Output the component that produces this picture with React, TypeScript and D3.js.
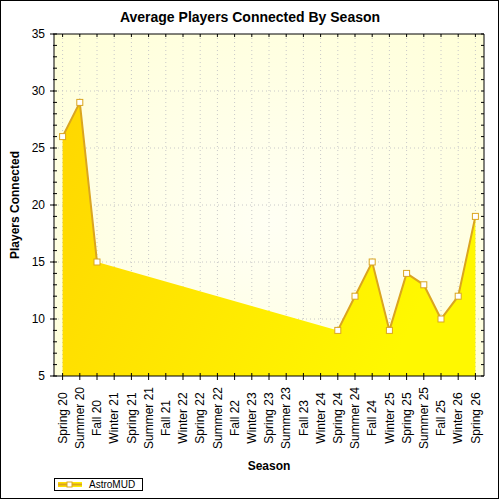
import React from "react";
import * as d3 from "d3";

const seasons = [
  "Spring 20", "Summer 20", "Fall 20", "Winter 21", "Spring 21", "Summer 21", "Fall 21",
  "Winter 22", "Spring 22", "Summer 22", "Fall 22", "Winter 23", "Spring 23", "Summer 23",
  "Fall 23", "Winter 24", "Spring 24", "Summer 24", "Fall 24", "Winter 25", "Spring 25",
  "Summer 25", "Fall 25", "Winter 26", "Spring 26",
];
const players: (number | null)[] = [
  26, 29, 15, null, null, null, null, null, null, null, null, null, null, null, null, null,
  9, 12, 15, 9, 14, 13, 10, 12, 19,
];
const majorTicks = [5, 10, 15, 20, 25, 30, 35];
const seriesName = "AstroMUD";

const W = 500, H = 500;
const L = 54, R = 484, T = 34, B = 376;
const FONT = "Arial, 'Liberation Sans', sans-serif";
const LINE = "#DAA520";

export default function App() {
  const x = d3.scaleBand<string>().domain(seasons).range([L, R]).padding(0);
  const cx = (s: string) => (x(s) as number) + x.bandwidth() / 2;
  const y = d3.scaleLinear().domain([5, 35]).range([B, T]);
  const minorTicks = d3.range(5, 36, 1);

  const pts = seasons.map((s, i) => ({ s, v: players[i] }));
  const defined = pts.filter((p) => p.v !== null) as { s: string; v: number }[];

  const area = d3.area<{ s: string; v: number }>()
    .x((d) => cx(d.s)).y0(y(5)).y1((d) => y(d.v))(defined) || "";
  const line = d3.line<{ s: string; v: number | null }>()
    .defined((d) => d.v !== null)
    .x((d) => cx(d.s)).y((d) => y(d.v as number))(pts) || "";

  return (
    <svg width={W} height={H} style={{ position: "absolute", left: 0, top: 0 }} fontFamily={FONT}>
      <defs>
        <radialGradient id="bg" cx="50%" cy="55%" r="75%">
          <stop offset="0%" stopColor="#FFFFF4" />
          <stop offset="100%" stopColor="#FFFFD8" />
        </radialGradient>
        <linearGradient id="fill" x1="0" y1="0" x2="1" y2="0.3">
          <stop offset="0%" stopColor="#FFD700" />
          <stop offset="100%" stopColor="#FFF800" />
        </linearGradient>
        <linearGradient id="legfill" x1="0" y1="0" x2="1" y2="0">
          <stop offset="0%" stopColor="#FFD700" />
          <stop offset="100%" stopColor="#FFF200" />
        </linearGradient>
      </defs>
      <rect x={0} y={0} width={W} height={H} fill="#fff" />
      <rect x={0.5} y={0.5} width={498} height={498} fill="none" stroke="#000" />
      <rect x={L} y={T} width={R - L} height={B - T} fill="url(#bg)" />

      {/* grid */}
      {seasons.map((s) => (
        <line key={"gv" + s} x1={cx(s)} x2={cx(s)} y1={T} y2={B} stroke="#C8C8C8" strokeDasharray="1,3" />
      ))}
      {majorTicks.slice(1, -1).map((t) => (
        <line key={"gh" + t} x1={L} x2={R} y1={y(t)} y2={y(t)} stroke="#C8C8C8" strokeDasharray="1,3" />
      ))}

      <path d={area} fill="url(#fill)" />
      <path d={line} fill="none" stroke={LINE} strokeWidth={2} />
      {defined.map((d) => (
        <rect key={"m" + d.s} x={cx(d.s) - 3} y={y(d.v) - 3} width={6} height={6} fill="#fff" stroke={LINE} strokeWidth={1} />
      ))}

      {/* frame */}
      <line x1={L} x2={R} y1={T} y2={T} stroke="#000" />
      <line x1={R} x2={R} y1={T} y2={B} stroke="#000" />
      <line x1={L} x2={L} y1={T} y2={B} stroke="#000" />
      <line x1={L} x2={R} y1={B} y2={B} stroke="#000" />

      {/* y ticks */}
      {minorTicks.map((t) => (
        <g key={"yt" + t}>
          <line x1={L - 1} x2={L + 3} y1={y(t)} y2={y(t)} stroke="#000" />
          <line x1={R - 3} x2={R} y1={y(t)} y2={y(t)} stroke="#000" />
        </g>
      ))}
      {majorTicks.map((t) => (
        <g key={"ym" + t}>
          <line x1={L - 4} x2={L} y1={y(t)} y2={y(t)} stroke="#000" />
          <text x={45} y={y(t)} dy="0.35em" textAnchor="end" fontSize={12} fill="#000">{t}</text>
        </g>
      ))}

      {/* x ticks */}
      {seasons.map((s) => (
        <g key={"xt" + s}>
          <line x1={cx(s)} x2={cx(s)} y1={B - 3} y2={B + 4} stroke="#000" />
          <line x1={cx(s)} x2={cx(s)} y1={T} y2={T + 3} stroke="#000" />
          <text transform={`translate(${cx(s)},418) rotate(-90)`} dy="0.35em" textAnchor="middle" fontSize={12} fill="#000">{s}</text>
        </g>
      ))}

      {/* titles */}
      <text x={250} y={22} textAnchor="middle" fontSize={14} fontWeight="bold" fill="#000">Average Players Connected By Season</text>
      <text x={(L + R) / 2} y={470} textAnchor="middle" fontSize={12} fontWeight="bold" fill="#000">Season</text>
      <text transform={`translate(19,${(T + B) / 2}) rotate(-90)`} textAnchor="middle" fontSize={12} fontWeight="bold" fill="#000">Players Connected</text>

      {/* legend */}
      <rect x={54.5} y={478.5} width={88} height={12} fill="#fff" stroke="#000" />
      <rect x={58} y={482} width={24} height={5} fill="url(#legfill)" />
      <line x1={58} x2={82} y1={484.5} y2={484.5} stroke={LINE} strokeWidth={2} />
      <rect x={67} y={482} width={5} height={5} fill="#fff" stroke={LINE} strokeWidth={1} />
      <text x={89} y={488} fontSize={10} fill="#000">{seriesName}</text>
    </svg>
  );
}
